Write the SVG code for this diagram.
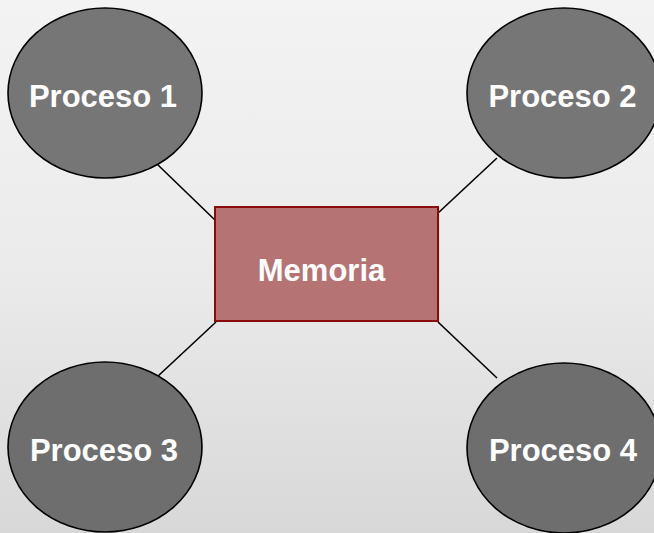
<svg xmlns="http://www.w3.org/2000/svg" width="654" height="533" viewBox="0 0 654 533">
  <defs>
    <linearGradient id="bg" x1="0" y1="0" x2="0" y2="1">
      <stop offset="0" stop-color="#f3f3f3"/>
      <stop offset="0.5" stop-color="#ebebeb"/>
      <stop offset="1" stop-color="#d8d8d8"/>
    </linearGradient>
  </defs>
  <style>
    .proc { fill: #767676; stroke: #000; stroke-width: 1.6; }
    .proc.low { fill: #6e6e6e; }
    .mem { fill: #b57473; stroke: #8b0a0a; stroke-width: 2; }
    .lbl { font-family: "Liberation Sans", Arial, sans-serif; font-weight: bold; font-size: 31px; fill: #fff; text-anchor: middle; }
    .link { stroke: #000; stroke-width: 1.6; fill: none; }
  </style>

  <rect x="0" y="0" width="654" height="533" fill="url(#bg)"/>

  <!-- connectors between memory and processes -->
  <g id="connectors">
    <line class="link" x1="158" y1="165" x2="216" y2="221"/>
    <line class="link" x1="497" y1="158" x2="437" y2="214"/>
    <line class="link" x1="216" y1="322" x2="157" y2="377"/>
    <line class="link" x1="438" y1="322" x2="497" y2="378"/>
  </g>

  <g id="memoria">
    <rect class="mem" x="215" y="207" width="223" height="114"/>
    <text class="lbl" x="321.5" y="281">Memoria</text>
  </g>

  <g id="proceso1">
    <ellipse class="proc" cx="105" cy="93" rx="97" ry="85"/>
    <text class="lbl" x="103" y="107">Proceso 1</text>
  </g>

  <g id="proceso2">
    <ellipse class="proc" cx="564" cy="93" rx="97" ry="85"/>
    <text class="lbl" x="562.5" y="107">Proceso 2</text>
  </g>

  <g id="proceso3">
    <ellipse class="proc low" cx="105" cy="447" rx="97" ry="85"/>
    <text class="lbl" x="104" y="461">Proceso 3</text>
  </g>

  <g id="proceso4">
    <ellipse class="proc low" cx="564" cy="448" rx="97" ry="85"/>
    <text class="lbl" x="563" y="461">Proceso 4</text>
  </g>
</svg>
